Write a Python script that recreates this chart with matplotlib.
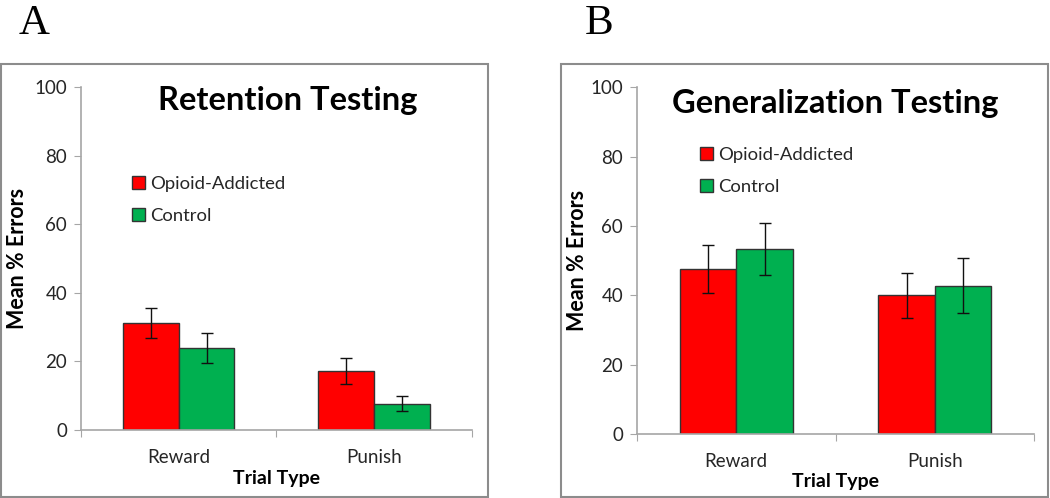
import matplotlib.pyplot as plt
from matplotlib.patches import Rectangle
import numpy as np

# Data
trial_types = ['Reward', 'Punish']
groups = ['Opioid-Addicted', 'Control']

retention_opioid = [31.2, 17.2]
retention_opioid_err = [4.4, 3.9]
retention_control = [23.9, 7.7]
retention_control_err = [4.4, 2.2]

general_opioid = [47.6, 40.0]
general_opioid_err = [6.9, 6.4]
general_control = [53.4, 42.8]
general_control_err = [7.6, 7.9]

RED = '#FF0000'
GREEN = '#00B050'
AXIS_GRAY = '#A6A6A6'
TEXT = '#262626'

plt.rcParams['font.family'] = ['Lato', 'DejaVu Sans']

fig = plt.figure(figsize=(10.5, 4.98), dpi=100)


def draw_panel(rect, opioid, opioid_err, control, control_err, title, title_xy,
               leg_xy, ylab_x, xlab_y):
    ax = fig.add_axes(rect)
    x = np.arange(len(trial_types))
    w = 0.285
    ax.bar(x - w/2, opioid, w, color=RED, edgecolor='#333333', linewidth=1,
           label=groups[0], zorder=2)
    ax.bar(x + w/2, control, w, color=GREEN, edgecolor='#333333', linewidth=1,
           label=groups[1], zorder=2)
    ax.errorbar(x - w/2, opioid, yerr=opioid_err, fmt='none', ecolor='#111111',
                elinewidth=1, capsize=4, capthick=1, zorder=3)
    ax.errorbar(x + w/2, control, yerr=control_err, fmt='none', ecolor='#111111',
                elinewidth=1, capsize=4, capthick=1, zorder=3)

    ax.set_xlim(-0.5, 1.5)
    ax.set_ylim(0, 100)
    ax.set_yticks(range(0, 101, 20))
    ax.set_xticks([-0.5, 0.5, 1.5])
    ax.set_xticklabels([])
    ax.set_xticks(x, minor=True)
    ax.set_xticklabels(trial_types, minor=True)
    ax.tick_params(axis='x', which='minor', length=0, pad=14,
                   labelsize=13.5, labelcolor=TEXT)
    ax.tick_params(axis='x', which='major', length=5, color=AXIS_GRAY)
    ax.tick_params(axis='y', length=5, color=AXIS_GRAY, labelsize=13.5,
                   labelcolor=TEXT, pad=5)

    for s in ['top', 'right']:
        ax.spines[s].set_visible(False)
    for s in ['left', 'bottom']:
        ax.spines[s].set_color(AXIS_GRAY)
        ax.spines[s].set_linewidth(1.2)

    ax.set_ylabel('Mean % Errors', fontsize=15.5, fontweight='bold', color='black')
    ax.yaxis.set_label_coords(ylab_x, 0.5)
    ax.set_xlabel('Trial Type', fontsize=14, fontweight='bold', color='black')
    ax.xaxis.set_label_coords(0.5, xlab_y)

    fig.text(title_xy[0], title_xy[1], title, fontsize=23.5, fontweight='bold',
             ha='center', va='center')

    ax.legend(loc='upper left', bbox_to_anchor=leg_xy, bbox_transform=fig.transFigure,
              frameon=False, borderaxespad=0, borderpad=0, handlelength=0.7,
              handleheight=0.7, handletextpad=0.3, labelspacing=0.85,
              fontsize=13.3, labelcolor=TEXT)
    return ax


# Panel A
draw_panel([0.0771, 0.1365, 0.3724, 0.6888],
           retention_opioid, retention_opioid_err,
           retention_control, retention_control_err,
           'Retention Testing', (288/1050, 1 - 100/498),
           (132/1050, 1 - 176/498), -0.136, -0.118)

# Panel B
draw_panel([0.6067, 0.1285, 0.3781, 0.6962],
           general_opioid, general_opioid_err,
           general_control, general_control_err,
           'Generalization Testing', (835/1050, 1 - 104/498),
           (700/1050, 1 - 147/498), -0.123, -0.112)

# Panel frames
fig.patches.append(Rectangle((1/1050, 1/498), 487/1050, 433/498,
                             transform=fig.transFigure, fill=False,
                             edgecolor='#8C8C8C', linewidth=1.5))
fig.patches.append(Rectangle((561/1050, 1/498), 487/1050, 433/498,
                             transform=fig.transFigure, fill=False,
                             edgecolor='#8C8C8C', linewidth=1.5))

# Panel letters
fig.text(19/1050, 1 - 34/498, 'A', fontsize=31, family='Liberation Serif')
fig.text(585/1050, 1 - 34/498, 'B', fontsize=31, family='Liberation Serif')

fig.savefig('out.png', dpi=100)
